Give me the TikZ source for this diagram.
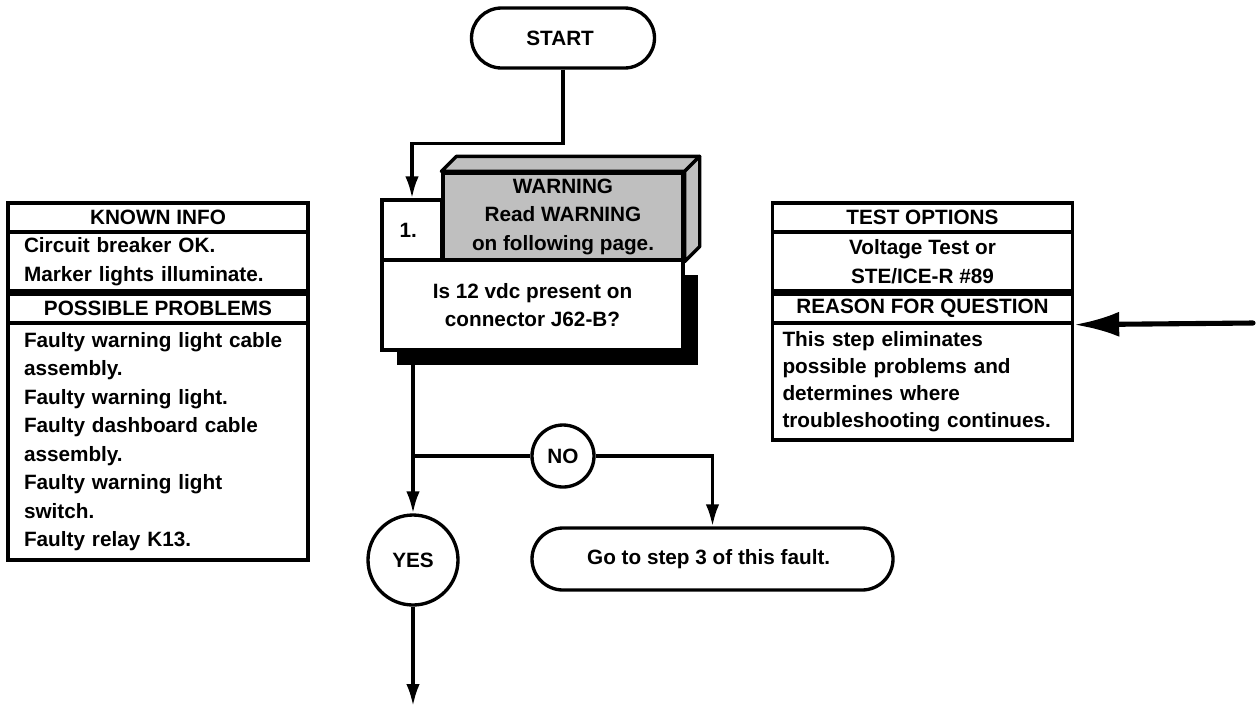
\documentclass[tikz,border=0pt]{standalone}
\usepackage{fontspec}
\setmainfont{Liberation Sans}
\usetikzlibrary{arrows.meta,shadows}

\begin{document}
\begin{tikzpicture}[
    font=\bfseries\fontsize{11.8}{16.2}\selectfont,
    line width=1.9pt,
    box/.style={
        draw,
        fill=white,
        minimum width=6cm,
        inner sep=0pt,
        align=center
    },
    head/.style={box, minimum height=0.58cm},
    body/.style={box, text width=5.36cm, inner xsep=0.32cm, align=left},
    term/.style={draw, fill=white, rounded corners=0.6cm, minimum height=1.2cm, align=center},
    ring/.style={draw, circle, inner sep=0pt},
    flow/.style={-{Latex[length=0.44cm, width=0.27cm]}}
]

\useasboundingbox (0,0) rectangle (25.2,-14.16);

% main column
\node[term, minimum width=3.66cm] (start) at (11.26,-0.76) {
START
};

\node[box, minimum width=1.2cm, minimum height=1.2cm] (num) at (8.24,-4.6) {
1.
};

\node[box, fill=gray!50, minimum width=4.8cm, minimum height=1.74cm] (warn) at (11.26,-4.33) {
WARNING\\
Read WARNING\\
on following page.
};

\filldraw[fill=gray!50, line join=round] (warn.north west) -- ++(0.3,0.3)
    -- ([shift={(0.3,0.3)}]warn.north east) -- (warn.north east) -- cycle;
\filldraw[fill=gray!50, line join=round] (warn.north east) -- ++(0.3,0.3)
    -- ([shift={(0.3,0.3)}]warn.south east) -- (warn.south east) -- cycle;

\node[box, minimum width=6.02cm, minimum height=1.8cm,
      drop shadow={shadow xshift=0.3cm, shadow yshift=-0.3cm, opacity=1, fill=black}] (quest) at (10.65,-6.1) {
Is 12 vdc present on\\
connector J62-B?
};

\node[ring, minimum size=1.24cm] (no) at (11.26,-9.12) {NO};

\node[ring, minimum size=1.8cm] (yes) at (8.26,-11.2) {YES};

\node[term, rounded corners=0.62cm, minimum width=7.22cm, minimum height=1.24cm] (go) at (14.25,-11.18) {
Go to step 3 of this fault.
};

\coordinate (down) at (8.26,-14.12);

\draw[flow] (start.south) -- ++(0,-1.48) -| (num.north);
\draw[flow] (yes.north |- quest.south) -- (yes.north);
\draw (yes.north |- no.west) -- (no.west);
\draw[flow] (no.east) -| (go.north);
\draw[flow] (yes.south) -- (down);

% left panel
\node[head] (known) at (3.16,-4.35) {KNOWN INFO};

\node[body, minimum height=1.18cm] (knowntxt) at (3.16,-5.23) {
Circuit breaker OK.\\
Marker lights illuminate.
};

\node[head] (prob) at (3.16,-6.17) {POSSIBLE PROBLEMS};

\node[body, minimum height=4.74cm] (probtxt) at (3.16,-8.83) {
Faulty warning light cable\\
assembly.\\
Faulty warning light.\\
Faulty dashboard cable\\
assembly.\\
Faulty warning light\\
switch.\\
Faulty relay K13.
};

% right panel
\node[head] (test) at (18.45,-4.35) {TEST OPTIONS};

\node[box, minimum height=1.18cm] (testtxt) at (18.45,-5.23) {
Voltage Test or\\
STE/ICE-R \#89
};

\node[head] (reason) at (18.45,-6.17) {REASON FOR QUESTION};

\node[body, inner xsep=0.2cm, text width=5.6cm, minimum height=2.34cm,
      font=\bfseries\fontsize{11.8}{15.3}\selectfont] (reasontxt) at (18.45,-7.63) {
This step eliminates\\
possible problems and\\
determines where\\
troubleshooting continues.
};

\coordinate (tail) at (25.06,-6.46);
\draw[line width=2.9pt, line cap=round, -{Latex[length=0.9cm, width=0.5cm]}] (tail) -- (reason.south east);

\end{tikzpicture}
\end{document}
